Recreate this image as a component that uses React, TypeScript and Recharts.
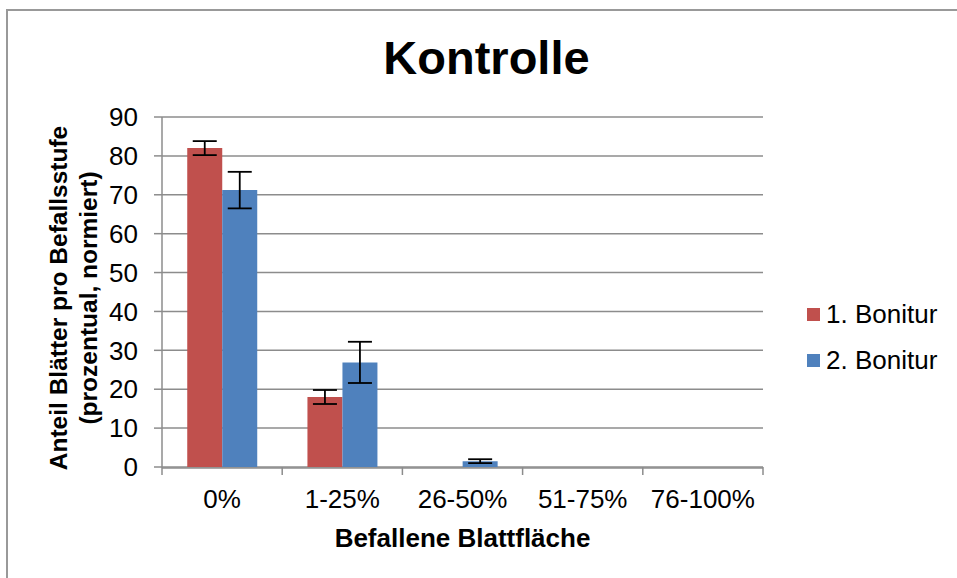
import {
  BarChart,
  Bar,
  XAxis,
  YAxis,
  CartesianGrid,
  ErrorBar,
  Legend,
  Label,
} from 'recharts'

const FONT = '"Liberation Sans", Arial, sans-serif'
const GRID = '#8c8c8c'

const categories = ['0%', '1-25%', '26-50%', '51-75%', '76-100%']
const bonitur1 = [82, 18, 0, 0, 0]
const bonitur2 = [71.2, 26.9, 1.5, 0, 0]
const err1 = [1.8, 1.8, 0, 0, 0]
const err2 = [4.7, 5.3, 0.5, 0, 0]
const yTicks = [0, 10, 20, 30, 40, 50, 60, 70, 80, 90]
const edgeTicks = [0, 1, 2, 3, 4, 5]

// slot = right-hand boundary of each category, used by the boundary-tick axis
const data = categories.map((cat, i) => ({
  cat,
  slot: i + 1,
  b1: bonitur1[i],
  b2: bonitur2[i],
  e1: err1[i],
  e2: err2[i],
}))

function YTitle({ viewBox }: any) {
  const cx = 82
  const cy = viewBox.y + viewBox.height / 2 + 6
  return (
    <text
      transform={`rotate(-90, ${cx}, ${cy})`}
      textAnchor="middle"
      fontFamily={FONT}
      fontWeight="bold"
      fontSize={24.5}
      fill="#000"
    >
      <tspan x={cx} y={cy - 15}>Anteil Blätter pro Befallsstufe</tspan>
      <tspan x={cx} y={cy + 15}>(prozentual, normiert)</tspan>
    </text>
  )
}

function LegendBox({ payload }: any) {
  return (
    <div style={{ fontFamily: FONT, fontSize: 26, color: '#000' }}>
      {(payload ?? []).map((p: any) => (
        <div key={p.value} style={{ display: 'flex', alignItems: 'center', height: 46 }}>
          <span style={{ width: 13, height: 13, background: p.color, marginRight: 6 }} />
          <span>{p.value}</span>
        </div>
      ))}
    </div>
  )
}

export default function App() {
  return (
    <div style={{ position: 'absolute', left: 0, top: 0, width: 957, height: 578, background: '#fff', overflow: 'hidden' }}>
      <div
        style={{
          position: 'absolute',
          left: 6,
          top: 9,
          width: 1000,
          height: 600,
          borderTop: `2px solid #999`,
          borderLeft: `2px solid #999`,
        }}
      />
      <div
        style={{
          position: 'absolute',
          left: 8,
          top: 34,
          width: 957,
          textAlign: 'center',
          fontFamily: FONT,
          fontWeight: 'bold',
          fontSize: 47,
          lineHeight: '47px',
          color: '#000',
        }}
      >
        Kontrolle
      </div>
      <div style={{ position: 'absolute', left: 0, top: 0 }}>
        <BarChart
          width={957}
          height={578}
          data={data}
          margin={{ top: 117, right: 194, bottom: 109, left: 0 }}
          barCategoryGap="21%"
          barGap={0}
        >
          <CartesianGrid vertical={false} stroke={GRID} strokeWidth={1.5} />
          <XAxis
            type="number"
            dataKey="slot"
            domain={[0, 'dataMax']}
            ticks={edgeTicks}
            allowDataOverflow
            height={1}
            axisLine={false}
            tickFormatter={() => ''}
            tickSize={8}
            tickLine={{ stroke: GRID, strokeWidth: 1.5 }}
          />
          <XAxis
            xAxisId="cat"
            dataKey="cat"
            height={1}
            tickSize={0}
            tickMargin={22}
            axisLine={{ stroke: GRID, strokeWidth: 1.5 }}
            tickLine={false}
            tick={{ fontSize: 26, fill: '#000', fontFamily: FONT }}
          >
            <Label
              value="Befallene Blattfläche"
              position="bottom"
              offset={60}
              style={{ fontSize: 26, fontWeight: 'bold', fill: '#000', fontFamily: FONT }}
            />
          </XAxis>
          <YAxis
            width={162}
            domain={[0, 90]}
            ticks={yTicks}
            interval={0}
            tickSize={8}
            tickMargin={16}
            axisLine={{ stroke: GRID, strokeWidth: 1.5 }}
            tickLine={{ stroke: GRID, strokeWidth: 1.5 }}
            tick={{ fontSize: 26, fill: '#000', fontFamily: FONT }}
          >
            <Label content={<YTitle />} />
          </YAxis>
          <Legend
            layout="horizontal"
            verticalAlign="middle"
            align="center"
            content={<LegendBox />}
            wrapperStyle={{ left: 807, top: 291, width: 150 }}
          />
          <Bar dataKey="b1" name="1. Bonitur" xAxisId="cat" fill="#C0504D" isAnimationActive={false}>
            <ErrorBar dataKey="e1" width={12} stroke="#000" strokeWidth={1.8} direction="y" />
          </Bar>
          <Bar dataKey="b2" name="2. Bonitur" xAxisId="cat" fill="#4F81BD" isAnimationActive={false}>
            <ErrorBar dataKey="e2" width={12} stroke="#000" strokeWidth={1.8} direction="y" />
          </Bar>
        </BarChart>
      </div>
    </div>
  )
}
